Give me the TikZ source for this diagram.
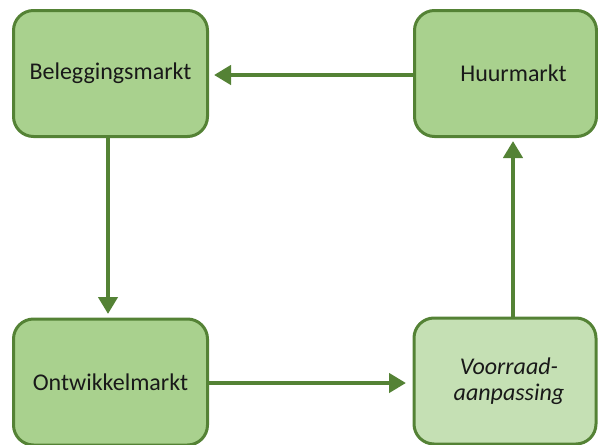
\documentclass[tikz,border=0pt]{standalone}
\usepackage{fontspec}
\setmainfont{Carlito}
\usetikzlibrary{arrows.meta}
\definecolor{boxfill}{HTML}{A9D18E}
\definecolor{boxfilllight}{HTML}{C5E0B4}
\definecolor{boxline}{HTML}{548235}
\tikzset{
  market/.style={draw=boxline, line width=3pt, fill=boxfill, rounded corners=20pt,
    minimum width=194pt, minimum height=126pt, font=\fontsize{24}{26}\selectfont,
    align=center, text=black!90},
  flow/.style={draw=boxline, line width=4.5pt,
    -{Triangle[length=17pt,width=19pt]}}
}
\begin{document}
\begin{tikzpicture}[x=1pt,y=-1pt]
  \useasboundingbox (0,0) rectangle (598,445);
  % the four markets
  \node[market] (bel) at (110.5,73.5) {Beleggingsmarkt};
  \node[market, minimum width=182pt] (huur) at (505.5,73.5) {\hspace*{16pt}Huurmarkt};
  \node[market] (ont) at (110.5,382) {Ontwikkelmarkt};
  \node[market, fill=boxfilllight, minimum width=182pt] (voor) at (505,381)
    {\hspace*{8pt}\itshape Voorraad-\\\hspace*{8pt}\itshape aanpassing};
  % the cycle between them
  \coordinate (t1) at (214,75);
  \coordinate (t2) at (108,314);
  \coordinate (t3) at (406,383);
  \coordinate (t4) at (513,141);
  \draw[flow] (huur.west |- t1) -- (t1);
  \draw[flow] (bel.south -| t2) -- (t2);
  \draw[flow] (ont.east |- t3) -- (t3);
  \draw[flow] (voor.north -| t4) -- (t4);
\end{tikzpicture}
\end{document}
